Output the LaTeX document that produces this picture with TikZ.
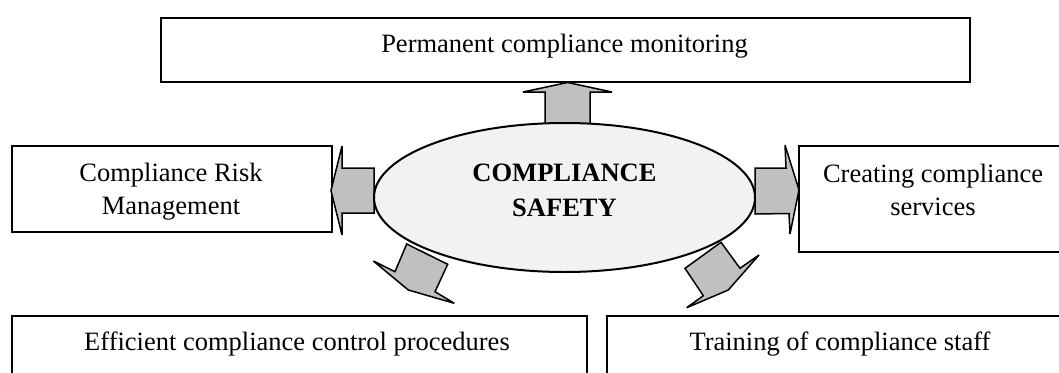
\documentclass[tikz,border=0pt]{standalone}
\usepackage{fontspec}
\setmainfont{Liberation Serif}
\usetikzlibrary{shapes.geometric}
\definecolor{arrowgray}{HTML}{C0C0C0}
\definecolor{ovalgray}{HTML}{F2F2F2}
\begin{document}
\begin{tikzpicture}[x=1pt,y=-1pt,
  box/.style={draw, line width=2pt, rectangle, inner sep=0pt, anchor=north west},
  lbl/.style={font=\fontsize{26.5}{33}\selectfont, align=center, inner sep=0pt},
  blockarrow/.style={draw, line width=1.5pt, fill=arrowgray, miter limit=6},
]
\useasboundingbox (0,0) rectangle (1059,372);
\clip (0,0) rectangle (1059,372);
\fill[white] (0,0) rectangle (1059,372);

% boxes
\node[box, minimum width=809pt, minimum height=64pt] (mon) at (160,17) {};
\node[box, minimum width=320pt, minimum height=86pt] (risk) at (11,145) {};
\node[box, minimum width=272pt, minimum height=106pt] (serv) at (798,145) {};
\node[box, minimum width=575pt, minimum height=90pt] (proc) at (11,315) {};
\node[box, minimum width=470pt, minimum height=90pt] (staff) at (606,315) {};

% block arrows
\draw[blockarrow] (545,124) -- (545,92) -- (523,92) -- (567.5,82.5) -- (612,92) -- (590,92) -- (590,124) -- cycle;
\draw[blockarrow] (374,168) -- (342,168) -- (342,146) -- (331,190.5) -- (342,235) -- (342,213) -- (374,213) -- cycle;
\draw[blockarrow] (755,168) -- (786,168) -- (785,145) -- (799,190) -- (790,234) -- (789,213.5) -- (755,214) -- cycle;
\draw[blockarrow] (406.7,244) -- (395,271.7) -- (373.3,261) -- (408.3,290) -- (454.3,303.3) -- (435,291.7) -- (447.7,264.3) -- cycle;
\draw[blockarrow] (721,242.3) -- (740,268.3) -- (759,255) -- (728.3,290) -- (686.7,307.7) -- (703.3,295.7) -- (685,268.3) -- cycle;

% central ellipse
\node[draw, ellipse, line width=2pt, fill=ovalgray, minimum width=381pt, minimum height=149pt, inner sep=0pt] (saf) at (564.5,197.5) {};
\node[font=\bfseries\fontsize{26.5}{35}\selectfont, align=center, inner sep=0pt] (safT) at (564.5,190.6) {COMPLIANCE\\SAFETY};

% labels
\node[lbl, anchor=base] (monT) at (564.5,52) {Permanent compliance monitoring};
\node[lbl] (riskT) at (171,191.3) {Compliance Risk\\Management};
\node[lbl] (servT) at (933,189.5) {Creating compliance\\services};
\node[lbl, anchor=base] (procT) at (297,350) {Efficient compliance control procedures};
\node[lbl, anchor=base] (staffT) at (840,350) {Training of compliance staff};
\end{tikzpicture}
\end{document}
